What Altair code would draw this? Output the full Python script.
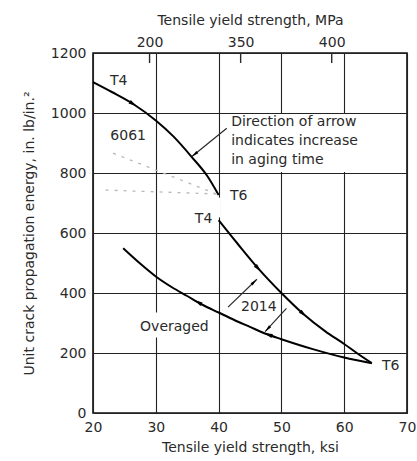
import math

import altair as alt
import numpy as np
import pandas as pd

# Tensile yield strength (ksi) against unit crack propagation energy (in.-lb/in.^2)
al6061_ksi = [20, 23, 26.4, 30, 32.8, 35.7, 38.2, 40]
al6061_energy = [1103, 1070, 1030, 975, 922, 854, 790, 727]

al2014_aging_ksi = [40, 43, 46.3, 50, 53.5, 57, 60, 62, 64.4]
al2014_aging_energy = [643, 565, 482, 400, 330, 272, 230, 200, 166]

al2014_over_ksi = [24.8, 27.5, 30, 32.5, 35, 37.5, 40, 42.5, 45, 47.5, 50, 55, 60, 64.4]
al2014_over_energy = [549, 498, 455, 420, 390, 360, 335, 310, 287, 264, 246, 213, 185, 166]

# faint dashed traces running back from the 6061-T6 point
trace_ksi = [[23.2, 40], [22, 40]]
trace_energy = [[866, 727], [743, 730]]

# aging-direction arrowheads sitting on the curves: (curve, ksi, +1 = toward higher ksi)
arrow_curve = ["6061", "2014a", "2014a", "2014o", "2014o"]
arrow_ksi = [26.4, 46.3, 53.5, 36.7, 47.9]
arrow_dir = [1, 1, 1, -1, -1]

# leader lines (from, to) with an arrowhead at the "to" end
leader_from_ksi = [41.3, 41.5, 50.8]
leader_from_energy = [949, 353, 349]
leader_to_ksi = [35.7, 46.1, 47.4]
leader_to_energy = [854, 446, 271]

# text labels
left_text = ["T6", "T6", "Overaged", "Direction of arrow", "indicates increase", "in aging time"]
left_ksi = [41.8, 66.0, 27.5, 42.0, 42.0, 42.0]
left_energy = [723, 157, 287, 971, 907, 843]
center_text = ["T4", "6061", "2014"]
center_ksi = [24.1, 25.6, 46.4]
center_energy = [1107, 923, 355]
right_text = ["T4"]
right_ksi = [39.0]
right_energy = [647]

# white boxes that keep the grid out from behind text
box_ksi = [40.35, 27.2, 39.7]
box_ksi2 = [69.7, 38.8, 40.3]
box_energy = [803, 252, 652]
box_energy2 = [997, 335, 718]

# secondary axis in MPa
mpa_ticks = [200, 300, 400]
mpa_tick_labels = ["200", "350", "400"]
KSI_TO_MPA = 6.895

X_DOMAIN = [20, 70]
Y_DOMAIN = [0, 1200]
W, H = 314, 360
FONT = "DejaVu Sans"
INK = "#2a2a2a"

px_per_ksi = W / (X_DOMAIN[1] - X_DOMAIN[0])
px_per_unit = H / (Y_DOMAIN[1] - Y_DOMAIN[0])


def screen_angle(dx, dy):
    """Clockwise angle from 'up' for a direction given in data units."""
    sx = dx * px_per_ksi
    sy = -dy * px_per_unit
    return math.degrees(math.atan2(sx, -sy)) % 360


curves = {
    "6061": (al6061_ksi, al6061_energy),
    "2014a": (al2014_aging_ksi, al2014_aging_energy),
    "2014o": (al2014_over_ksi, al2014_over_energy),
}

curve_rows = []
for name, (xs, ys) in curves.items():
    for i, (xv, yv) in enumerate(zip(xs, ys)):
        curve_rows.append({"curve": name, "i": i, "ksi": xv, "energy": yv})
curve_df = pd.DataFrame(curve_rows)

trace_rows = []
for k, (xs, ys) in enumerate(zip(trace_ksi, trace_energy)):
    for i, (xv, yv) in enumerate(zip(xs, ys)):
        trace_rows.append({"trace": k, "i": i, "ksi": xv, "energy": yv})
trace_df = pd.DataFrame(trace_rows)

arrow_rows = []
for name, xv, d in zip(arrow_curve, arrow_ksi, arrow_dir):
    xs, ys = curves[name]
    yv = float(np.interp(xv, xs, ys))
    y0 = float(np.interp(xv - 0.5, xs, ys))
    y1 = float(np.interp(xv + 0.5, xs, ys))
    ang = screen_angle(d * 1.0, d * (y1 - y0))
    arrow_rows.append({"ksi": xv, "energy": yv, "angle": ang})
arrow_df = pd.DataFrame(arrow_rows)

leader_df = pd.DataFrame({
    "ksi": leader_from_ksi, "energy": leader_from_energy,
    "ksi2": leader_to_ksi, "energy2": leader_to_energy,
})
leader_df["angle"] = [
    screen_angle(x2 - x1, y2 - y1)
    for x1, y1, x2, y2 in zip(leader_from_ksi, leader_from_energy, leader_to_ksi, leader_to_energy)
]

box_df = pd.DataFrame({"ksi": box_ksi, "ksi2": box_ksi2, "energy": box_energy, "energy2": box_energy2})

x_scale = alt.Scale(domain=X_DOMAIN, nice=False, zero=False)
y_scale = alt.Scale(domain=Y_DOMAIN, nice=False, zero=False)

x_enc = alt.X(
    "ksi:Q", scale=x_scale,
    axis=alt.Axis(
        values=list(range(20, 71, 10)), grid=True, ticks=False, domain=False,
        labelPadding=7, titlePadding=6, title="Tensile yield strength, ksi",
        labelFlush=False, format="d",
    ),
)
y_enc = alt.Y(
    "energy:Q", scale=y_scale,
    axis=alt.Axis(
        values=list(range(0, 1201, 200)), grid=True, ticks=False, domain=False,
        labelPadding=7, titlePadding=14, format="d",
        title="Unit crack propagation energy, in. lb/in.²",
    ),
)

boxes = alt.Chart(box_df).mark_rect(color="white").encode(
    x=x_enc, x2="ksi2:Q", y=y_enc, y2="energy2:Q",
)

curve_lines = alt.Chart(curve_df).mark_line(color="black", strokeWidth=2, interpolate="monotone").encode(
    x=x_enc, y=y_enc, detail="curve:N", order="i:Q",
)

traces = alt.Chart(trace_df).mark_line(color="#b8b8b8", strokeWidth=1.3, strokeDash=[3, 6]).encode(
    x=x_enc, y=y_enc, detail="trace:N", order="i:Q",
)

curve_arrows = alt.Chart(arrow_df).mark_point(
    shape="M0,-1L0.5,1L-0.5,1Z", filled=True, color="black", opacity=1, size=70,
).encode(
    x=x_enc, y=y_enc, angle=alt.Angle("angle:Q", scale=None),
)

leaders = alt.Chart(leader_df).mark_rule(color=INK, strokeWidth=1.2).encode(
    x=x_enc, y=y_enc, x2="ksi2:Q", y2="energy2:Q",
)

leader_heads = alt.Chart(leader_df).mark_point(
    shape="M0,0L0.4,2L-0.4,2Z", filled=True, color="black", opacity=1, size=55,
).encode(
    x=alt.X("ksi2:Q", scale=x_scale), y=alt.Y("energy2:Q", scale=y_scale),
    angle=alt.Angle("angle:Q", scale=None),
)


def labels(texts, xs, ys, align):
    df = pd.DataFrame({"t": texts, "ksi": xs, "energy": ys})
    return alt.Chart(df).mark_text(
        align=align, baseline="middle", font=FONT, fontSize=14, color=INK,
    ).encode(x=x_enc, y=y_enc, text="t:N")


main = alt.layer(
    boxes,
    curve_lines,
    traces,
    curve_arrows,
    leaders,
    leader_heads,
    labels(left_text, left_ksi, left_energy, "left"),
    labels(center_text, center_ksi, center_energy, "center"),
    labels(right_text, right_ksi, right_energy, "right"),
)

label_lookup = "{" + ",".join(f"'{v}':'{s}'" for v, s in zip(mpa_ticks, mpa_tick_labels)) + "}"
mpa_df = pd.DataFrame({"mpa": mpa_ticks})
mpa_layer = alt.Chart(mpa_df).mark_rule(color=INK, strokeWidth=1.4).encode(
    x=alt.X(
        "mpa:Q",
        scale=alt.Scale(domain=[X_DOMAIN[0] * KSI_TO_MPA, X_DOMAIN[1] * KSI_TO_MPA], nice=False, zero=False),
        axis=alt.Axis(
            orient="top", values=mpa_ticks, grid=False, ticks=False, domain=False,
            labelPadding=4, titlePadding=8, title="Tensile yield strength, MPa",
            labelExpr=f"{label_lookup}[datum.value] || datum.label",
        ),
    ),
    y=alt.value(0),
    y2=alt.value(10),
)

chart = alt.layer(main, mpa_layer).resolve_scale(x="independent").properties(
    width=W, height=H,
    autosize=alt.AutoSizeParams(type="none"),
    padding={"left": 93, "top": 53, "right": 10, "bottom": 48},
    background="white",
).configure_view(
    stroke="#111", strokeWidth=1.6,
).configure_axis(
    gridColor="#222", gridWidth=1.1, gridOpacity=1,
    labelFont=FONT, labelFontSize=14, labelColor=INK,
    titleFont=FONT, titleFontSize=14, titleFontWeight="normal", titleColor=INK,
)

chart.save("out.html", embed_options={"renderer": "svg", "actions": False})
